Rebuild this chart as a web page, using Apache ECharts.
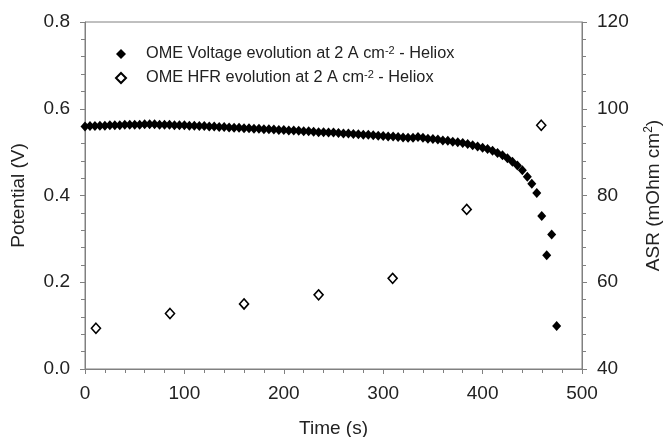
<!DOCTYPE html>
<html><head><meta charset="utf-8">
<script src="https://cdn.jsdelivr.net/npm/echarts@6/dist/echarts.min.js"></script>
<style>html,body{margin:0;padding:0;background:#fff}#c{width:664px;height:437px}</style>
</head><body><div id="c"></div>
<script>
// Voltage (V) vs time (s)
const voltTime = [0,5,10,15,20,25,30,35,40,45,50,55,60,65,70,75,80,85,90,95,100,105,110,115,120,125,130,135,140,145,150,155,160,165,170,175,180,185,190,195,200,205,210,215,220,225,230,235,240,245,250,255,260,265,270,275,280,285,290,295,300,305,310,315,320,325,330,335,340,345,350,355,360,365,370,375,380,385,390,395,400,405,410,415,420,425,430,435,440,445,449.5,454.5,459.5,464.5,469.5,474.5];
const voltValues = [0.559,0.560,0.560,0.561,0.561,0.562,0.562,0.562,0.563,0.563,0.563,0.563,0.564,0.564,0.564,0.563,0.563,0.563,0.562,0.562,0.562,0.561,0.561,0.560,0.560,0.559,0.559,0.558,0.558,0.557,0.556,0.556,0.555,0.555,0.554,0.554,0.553,0.553,0.552,0.551,0.551,0.550,0.550,0.549,0.548,0.548,0.547,0.546,0.546,0.545,0.545,0.544,0.543,0.543,0.542,0.541,0.540,0.540,0.539,0.538,0.537,0.536,0.536,0.535,0.534,0.533,0.533,0.535,0.533,0.531,0.530,0.529,0.527,0.526,0.524,0.523,0.521,0.519,0.516,0.513,0.510,0.507,0.503,0.498,0.493,0.486,0.478,0.469,0.458,0.443,0.427,0.406,0.353,0.262,0.310,0.099];
// HFR / ASR (mOhm cm2) vs time (s)
const hfrTime = [11,85.5,160,235,309.5,384,459];
const hfrValues = [49.4,52.8,55.0,57.1,60.9,76.8,96.2];
// axis ticks
const xTicks = [0,100,200,300,400,500];
const leftTicks = [0.0,0.2,0.4,0.6,0.8];
const rightTicks = [40,60,80,100,120];

const voltName = 'OME Voltage evolution at 2 A cm-2 - Heliox';
const hfrName = 'OME HFR evolution at 2 A cm-2 - Heliox';
const FONT = '"Liberation Sans", Arial, sans-serif';
const TXT = '#222';
const AX = '#808080';
const FS = 19;

const chart = echarts.init(document.getElementById('c'), null, {renderer:'canvas'});
const axisCommon = {
  axisLine:{show:true,lineStyle:{color:AX,width:1}},
  axisTick:{show:true,inside:false,length:5,lineStyle:{color:AX}},
  minorTick:{show:true,splitNumber:5,length:4,lineStyle:{color:AX}},
  splitLine:{show:false},
  axisLabel:{color:TXT,fontSize:FS,fontFamily:FONT},
  nameTextStyle:{color:TXT,fontSize:FS,fontFamily:FONT}
};
chart.setOption({
  animation:false,
  backgroundColor:'#fff',
  grid:{left:85,right:82,top:22,bottom:68,show:true,borderColor:AX,borderWidth:1,backgroundColor:'transparent',
        containLabel:false,outerBoundsMode:'none'},
  legend:{
    orient:'vertical',left:110,top:40,itemWidth:10,itemHeight:10,itemGap:7,
    data:[voltName,hfrName],
    formatter:function(n){
      const p = n.split('cm-2');
      return '{a|'+p[0]+'cm}{s|-2}{b|'+p[1]+'}';
    },
    textStyle:{
      color:TXT,fontFamily:FONT,fontSize:16,padding:[0,0,0,15],
      rich:{
        a:{fontSize:16.3,fontFamily:FONT,color:TXT,lineHeight:18},
        b:{fontSize:16.3,fontFamily:FONT,color:TXT,lineHeight:18},
        s:{fontSize:11,fontFamily:FONT,color:TXT,verticalAlign:'top',lineHeight:8}
      }
    }
  },
  xAxis:Object.assign({},axisCommon,{
    type:'value',min:0,max:500,interval:100,
    name:'Time (s)',nameLocation:'middle',nameGap:50,
    axisLabel:Object.assign({},axisCommon.axisLabel,{margin:15,
      formatter:function(v){return xTicks.indexOf(v)>=0?String(v):'';}})
  }),
  yAxis:[
    Object.assign({},axisCommon,{
      type:'value',min:0,max:0.8,interval:0.2,position:'left',
      name:'Potential (V)',nameLocation:'middle',nameGap:57,
      axisLabel:Object.assign({},axisCommon.axisLabel,{margin:15,
        formatter:function(v){return v.toFixed(1);}})
    }),
    Object.assign({},axisCommon,{
      type:'value',min:40,max:120,interval:20,position:'right',
      name:'{a|ASR (mOhm cm}{s|2}{a|)}',nameLocation:'middle',nameGap:61,
      nameTextStyle:{color:TXT,fontSize:FS,fontFamily:FONT,
        rich:{a:{fontSize:FS,fontFamily:FONT,color:TXT,lineHeight:21},
              s:{fontSize:12,fontFamily:FONT,color:TXT,verticalAlign:'top',lineHeight:12}}},
      axisLabel:Object.assign({},axisCommon.axisLabel,{margin:15,
        formatter:function(v){return String(v);}})
    })
  ],
  series:[
    {name:voltName,type:'scatter',yAxisIndex:0,symbol:'diamond',symbolSize:[9,10],
     itemStyle:{color:'#000',opacity:1},
     data:voltTime.map((t,i)=>[t,voltValues[i]])},
    {name:hfrName,type:'scatter',yAxisIndex:1,symbol:'diamond',symbolSize:[9,10],
     itemStyle:{color:'#fff',borderColor:'#000',borderWidth:1.6,opacity:1},
     data:hfrTime.map((t,i)=>[t,hfrValues[i]])}
  ]
});
</script></body></html>
